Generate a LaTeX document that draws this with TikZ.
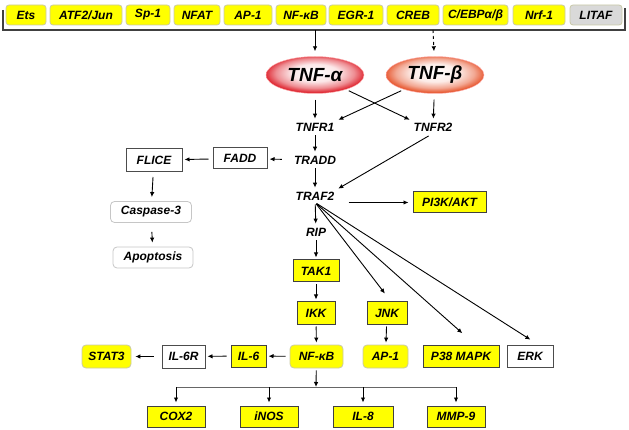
\documentclass[tikz,border=0pt]{standalone}
\usepackage{fontspec}
\setmainfont{Liberation Sans}
\usetikzlibrary{shapes.geometric,arrows.meta}
\definecolor{boxyellow}{HTML}{FFFF00}
\definecolor{litafgray}{HTML}{D9D9D9}
\definecolor{rimgray}{HTML}{C9C9A8}
\definecolor{alphared}{HTML}{E0303A}
\definecolor{betared}{HTML}{E8603A}
\pgfdeclareradialshading{alphashade}{\pgfpoint{0bp}{4bp}}{color(0bp)=(white); color(12bp)=(alphared!12); color(20bp)=(alphared!55); color(25bp)=(alphared); color(50bp)=(alphared)}
\pgfdeclareradialshading{betashade}{\pgfpoint{0bp}{4bp}}{color(0bp)=(white); color(12bp)=(betared!12); color(20bp)=(betared!55); color(25bp)=(betared); color(50bp)=(betared)}
\tikzset{
  factor/.style={draw=rimgray, fill=boxyellow, rounded corners=3pt, line width=0.8pt, minimum height=20pt, inner sep=1pt},
  ybox/.style={draw=black!75, fill=boxyellow, line width=1pt, minimum height=21pt, inner sep=1pt},
  yround/.style={draw=rimgray, fill=boxyellow, rounded corners=4pt, line width=0.8pt, minimum height=23pt, inner sep=1pt},
  wbox/.style={draw=black!70, fill=white, line width=1pt, minimum height=21pt, inner sep=1pt},
  wround/.style={draw=gray!45, fill=white, rounded corners=4pt, line width=0.8pt, minimum height=21pt, inner sep=1pt},
  tnf/.style={ellipse, draw=red!30, line width=0.4pt, minimum width=98pt, minimum height=37pt, font=\fontsize{19}{21}\selectfont\bfseries\itshape},
  arr/.style={draw, ->, line width=0.9pt, shorten >=2pt, shorten <=2pt},
}
\begin{document}
\begin{tikzpicture}[x=1pt,y=-1pt,>={Latex[length=5pt,width=4.5pt]},
  every node/.style={font=\fontsize{12}{14}\selectfont\bfseries\itshape, inner sep=2pt}]
\useasboundingbox (0,0) rectangle (629,430);

% transcription factors
\node[factor, minimum width=40pt] (ets) at (26,15) {Ets};
\node[factor, minimum width=72pt] (atf) at (86,15) {ATF2/Jun};
\node[factor, minimum width=44pt] (sp1) at (148,15) {Sp-1};
\node[factor, minimum width=46pt] (nfat) at (197,15) {NFAT};
\node[factor, minimum width=48pt] (ap1top) at (248,15) {AP-1};
\node[factor, minimum width=50pt] (nfkbtop) at (301,15) {NF-κB};
\node[factor, minimum width=54pt] (egr) at (356,15) {EGR-1};
\node[factor, minimum width=52pt] (creb) at (413,15) {CREB};
\node[factor, minimum width=65pt] (cebp) at (475.5,15) {C/EBPα/β};
\node[factor, minimum width=52pt] (nrf) at (539,15) {Nrf-1};
\node[factor, minimum width=52pt, fill=litafgray] (litaf) at (596,15) {LITAF};
\draw[line width=1.2pt, black!75] (3,10) -- (3,30) -- (625,30) -- (625,8);
\coordinate (srca) at (315,30);
\coordinate (srcb) at (433,30);

% ligands and receptors
\node[tnf, shading=alphashade] (tnfa) at (315,75) {TNF-α};
\node[tnf, shading=betashade] (tnfb) at (435,75) {TNF-β};
\node (tnfr1) at (315,127) {TNFR1};
\node (tnfr2) at (433,127) {TNFR2};
\node (tradd) at (315,160) {TRADD};
\node (traf2) at (315,196) {TRAF2};
\node (rip) at (316,232) {RIP};

% apoptosis branch
\node[wbox, minimum width=54pt] (fadd) at (240,158.5) {FADD};
\node[wbox, minimum width=56pt, minimum height=23pt] (flice) at (154,160) {FLICE};
\node[wround, minimum width=81pt] (casp) at (151,212) {Caspase-3};
\node[wround, minimum width=80pt] (apop) at (153,257.5) {Apoptosis};

% kinases
\node[ybox, minimum width=73pt] (pi3k) at (449.5,202.5) {PI3K/AKT};
\node[ybox, minimum width=46pt, minimum height=22pt] (tak1) at (316,271) {TAK1};
\node[ybox, minimum width=38pt, minimum height=22pt] (ikk) at (316,313) {IKK};
\node[ybox, minimum width=40pt, minimum height=22pt] (jnk) at (387,313) {JNK};
\node[yround, minimum width=53pt] (nfkb) at (316.5,356.5) {NF-κB};
\node[yround, minimum width=45pt] (ap1) at (385.5,356.5) {AP-1};
\node[ybox, minimum width=76pt, minimum height=22pt] (p38) at (461,356) {P38 MAPK};
\node[wbox, minimum width=46pt, minimum height=22pt] (erk) at (530,356) {ERK};
\node[ybox, minimum width=35pt, minimum height=22pt] (il6) at (248.5,356) {IL-6};
\node[wbox, minimum width=43pt, minimum height=23pt] (il6r) at (183.5,356.5) {IL-6R};
\node[yround, minimum width=49pt] (stat3) at (106.5,356.5) {STAT3};

% target genes
\node[ybox, minimum width=58pt] (cox2) at (176,416.5) {COX2};
\node[ybox, minimum width=58pt] (inos) at (269,416.5) {iNOS};
\node[ybox, minimum width=60pt] (il8) at (363,416.5) {IL-8};
\node[ybox, minimum width=58pt] (mmp9) at (456,416.5) {MMP-9};
\coordinate (bus) at (316,387);

\path[arr, shorten <=0pt, shorten >=5pt] (srca) -- (tnfa);
\path[arr, dashed, shorten <=0pt, shorten >=5pt] (srcb) -- (tnfb);
\path[arr, shorten <=6pt] (tnfa) -- (tnfr1);
\path[arr, shorten <=6pt] (tnfb) -- (tnfr2);
\path[arr, shorten <=3pt] (tnfa.-25) -- (tnfr2.north west);
\path[arr, shorten <=3pt] (tnfb.205) -- (tnfr1.north east);
\path[arr] (tnfr1) -- (tradd);
\path[arr] (tradd) -- (traf2);
\path[arr, shorten <=5pt] (tnfr2.south) -- (traf2.north east);
\path[arr, shorten <=10pt] (tradd) -- (fadd);
\path[arr, shorten <=4pt] (fadd) -- (flice);
\path[arr, shorten <=5pt, shorten >=4pt] (flice) -- (casp);
\path[arr, shorten <=9pt, shorten >=4pt] (casp) -- (apop);
\path[arr, shorten <=12pt, shorten >=4pt] (traf2.east |- pi3k.west) -- (pi3k.west);
\path[arr] (traf2) -- (rip);
\path[arr] (rip) -- (tak1);
\path[arr] (tak1) -- (ikk);
\path[arr] (ikk) -- (nfkb);
\path[arr] (jnk) -- (ap1);
\path[arr, shorten >=10pt] (traf2.south) -- ([xshift=4pt]jnk.north);
\path[arr, shorten >=17pt] (traf2.south) -- ([xshift=14pt]p38.north);
\path[arr, shorten >=9pt] (traf2.south) -- ([xshift=8pt]erk.north);
\path[arr, shorten <=4pt] (nfkb) -- (il6);
\path[arr, shorten <=4pt] (il6) -- (il6r);
\path[arr, shorten <=8pt, shorten >=4pt] (il6r) -- (stat3);
\path[arr, shorten >=0pt] (nfkb) -- (bus);
\draw[line width=0.9pt, black!60] (cox2.north |- bus) -- (mmp9.north |- bus);
\foreach \gene in {cox2,inos,il8,mmp9}
  \path[arr, shorten <=0pt, shorten >=3pt] (\gene.north |- bus) -- (\gene.north);
\end{tikzpicture}
\end{document}
